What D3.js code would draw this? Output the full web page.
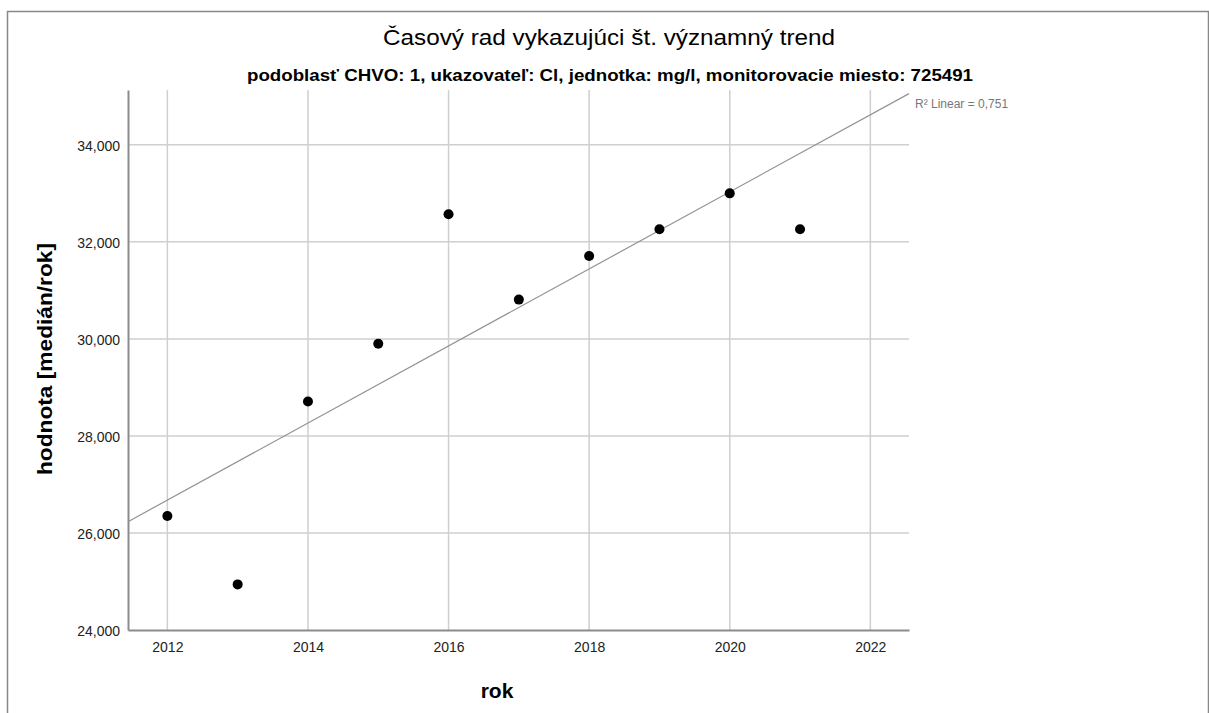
<!DOCTYPE html>
<html>
<head>
<meta charset="utf-8">
<script src="https://cdn.jsdelivr.net/npm/d3@7"></script>
<style>
html,body{margin:0;padding:0;background:#fff;}
svg{display:block;font-family:"Liberation Sans",Arial,sans-serif;}
</style>
</head>
<body>
<svg id="chart" width="1209" height="713"></svg>
<script>
const years = [2012, 2013, 2014, 2015, 2016, 2017, 2018, 2019, 2020, 2021];
const values = [26350, 24940, 28710, 29900, 32570, 30810, 31710, 32260, 33000, 32260];
const xTicks = [2012, 2014, 2016, 2018, 2020, 2022];
const yTicks = [24000, 26000, 28000, 30000, 32000, 34000];
const title = "Časový rad vykazujúci št. významný trend";
const subtitle = "podoblasť CHVO: 1, ukazovateľ: Cl, jednotka: mg/l, monitorovacie miesto: 725491";
const xLabel = "rok";
const yLabel = "hodnota [medián/rok]";
const r2Label = "R² Linear = 0,751";

const svg = d3.select("#chart");
const plot = {left: 128, right: 909, top: 90, bottom: 630};

const x = d3.scaleLinear().domain([2011.44, 2022.55]).range([plot.left, plot.right]);
const y = d3.scaleLinear().domain([24000, 35130]).range([plot.bottom, plot.top]);

// outer frame
svg.append("path").attr("d", "M7.5,713 V11.5 H1208.5 V713")
  .attr("fill", "none").attr("stroke", "#888").attr("stroke-width", 1.5);

// grid
const grid = svg.append("g");
grid.selectAll("line.gx").data(xTicks).join("line")
  .attr("x1", d => x(d)).attr("x2", d => x(d))
  .attr("y1", plot.top).attr("y2", plot.bottom)
  .attr("stroke", "#cfcfcf").attr("stroke-width", 1.5);
grid.selectAll("line.gy").data(yTicks.filter(d => d > 24000)).join("line")
  .attr("x1", plot.left).attr("x2", plot.right)
  .attr("y1", d => y(d)).attr("y2", d => y(d))
  .attr("stroke", "#cfcfcf").attr("stroke-width", 1.5);

// axes
const xAxis = d3.axisBottom(x).tickValues(xTicks).tickFormat(d3.format("d")).tickSize(0).tickPadding(12);
const gx = svg.append("g").attr("transform", `translate(0,${plot.bottom})`).call(xAxis);
gx.select(".domain").attr("stroke", "#8c8c8c").attr("stroke-width", 2);
gx.selectAll("text").attr("font-size", 14).attr("fill", "#222").attr("font-family", "Liberation Sans, Arial, sans-serif");

const yAxis = d3.axisLeft(y).tickValues(yTicks).tickFormat(d3.format(",")).tickSize(0).tickPadding(8);
const gy = svg.append("g").attr("transform", `translate(${plot.left},0)`).call(yAxis);
gy.select(".domain").attr("stroke", "#8c8c8c").attr("stroke-width", 2);
gy.selectAll("text").attr("font-size", 14).attr("fill", "#222").attr("font-family", "Liberation Sans, Arial, sans-serif").attr("dy", "0.4em");

// regression line
const mx = d3.mean(years), my = d3.mean(values);
let sxy = 0, sxx = 0;
years.forEach((xi, i) => { sxy += (xi - mx) * (values[i] - my); sxx += (xi - mx) ** 2; });
const slope = sxy / sxx, intercept = my - slope * mx;
const [x0, x1] = x.domain();
svg.append("line")
  .attr("x1", x(x0)).attr("y1", y(intercept + slope * x0))
  .attr("x2", x(x1)).attr("y2", y(intercept + slope * x1))
  .attr("stroke", "#939393").attr("stroke-width", 1.2);

// points
svg.append("g").selectAll("circle").data(years).join("circle")
  .attr("cx", d => x(d)).attr("cy", (d, i) => y(values[i]))
  .attr("r", 5).attr("fill", "#000");

// R2 label
svg.append("text").attr("x", 915).attr("y", 108).attr("font-size", 12).attr("fill", "#777").text(r2Label);

// titles
svg.append("text").attr("x", 609).attr("y", 45).attr("text-anchor", "middle")
  .attr("font-size", 22).attr("fill", "#000")
  .attr("textLength", 452).attr("lengthAdjust", "spacingAndGlyphs").text(title);
svg.append("text").attr("x", 610).attr("y", 81).attr("text-anchor", "middle")
  .attr("font-size", 17).attr("font-weight", "bold").attr("fill", "#000")
  .attr("textLength", 726).attr("lengthAdjust", "spacingAndGlyphs").text(subtitle);

svg.append("text").attr("x", 497).attr("y", 698).attr("text-anchor", "middle")
  .attr("font-size", 21).attr("font-weight", "bold").attr("fill", "#000").text(xLabel);
svg.append("text").attr("transform", "translate(52,359) rotate(-90)").attr("text-anchor", "middle")
  .attr("font-size", 21).attr("font-weight", "bold").attr("fill", "#000")
  .attr("textLength", 232).attr("lengthAdjust", "spacingAndGlyphs").text(yLabel);
</script>
</body>
</html>
